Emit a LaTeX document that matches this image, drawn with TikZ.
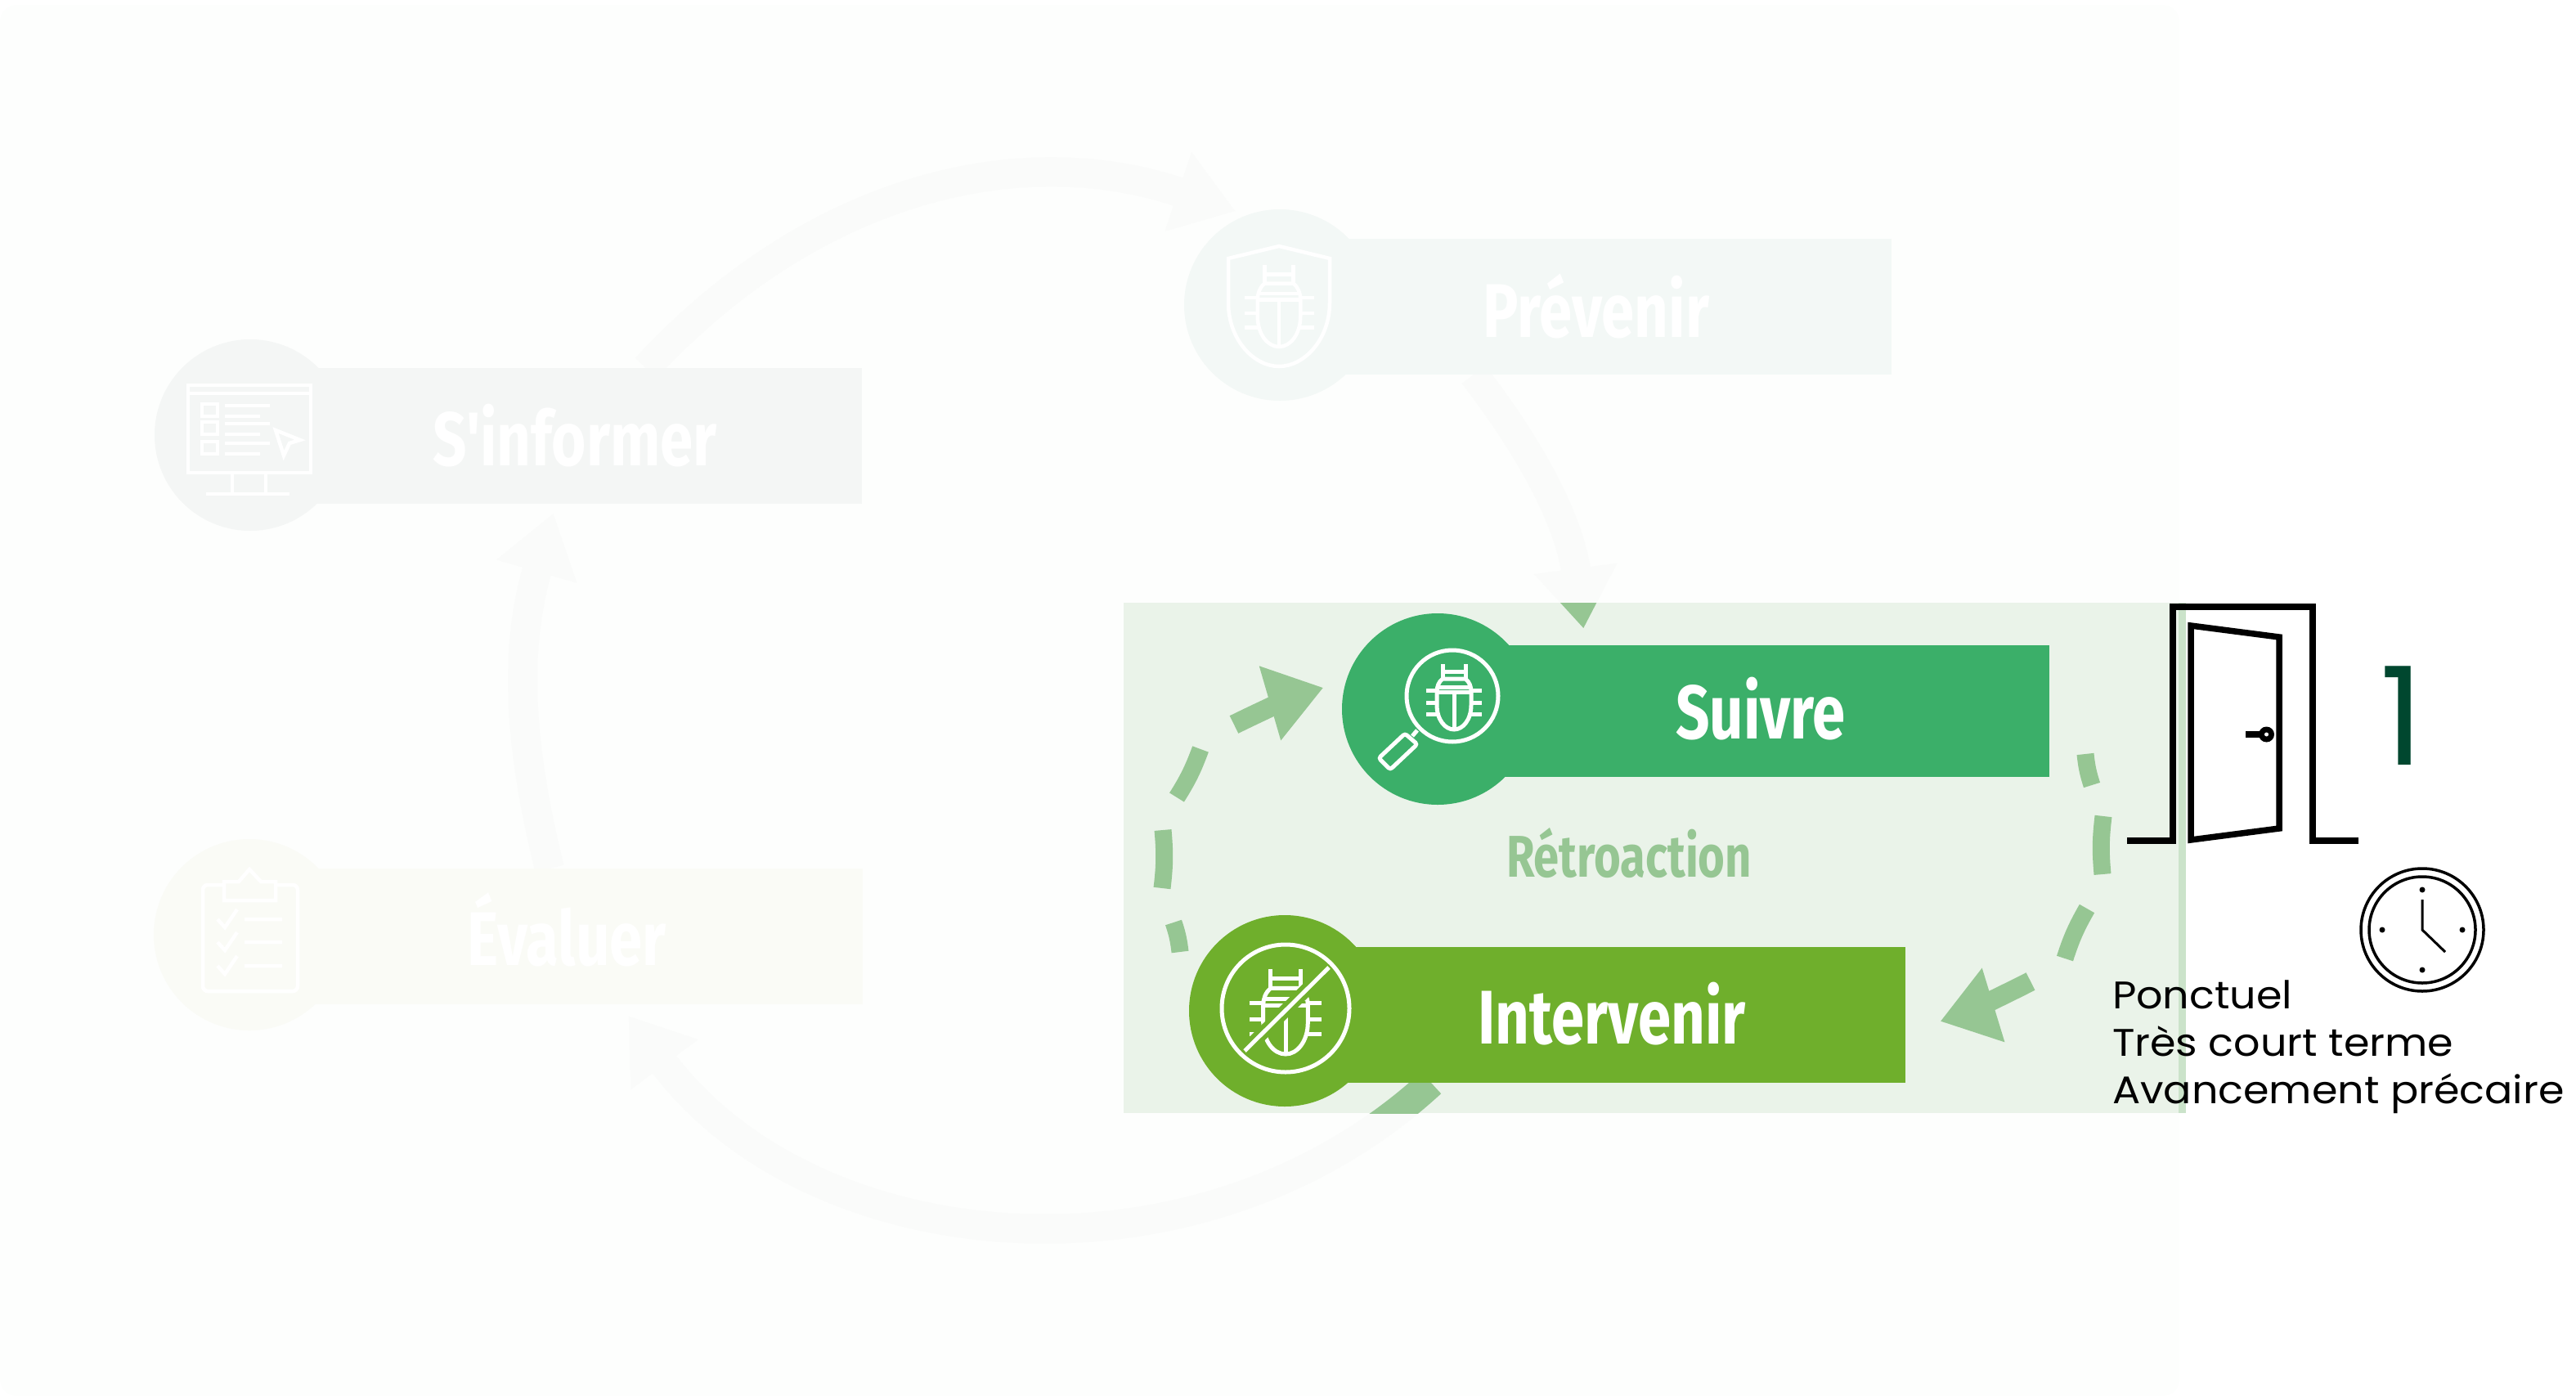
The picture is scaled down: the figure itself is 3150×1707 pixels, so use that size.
\documentclass[tikz,border=0pt]{standalone}
\usepackage{fontspec}
\usepackage{tikz}
\usetikzlibrary{arrows.meta}
\setmainfont{Poppins}
\newfontfamily\stepfont[FakeStretch=0.78]{Fira Sans}
\newfontfamily\capfont[FakeStretch=1.08]{Poppins}
\definecolor{panelc}{HTML}{FDFEFD}
\definecolor{hilitec}{HTML}{EAF3E9}
\definecolor{stripc}{HTML}{CBE3CA}
\definecolor{fadering}{HTML}{FAFBFA}
\definecolor{strongc}{HTML}{96C693}
\definecolor{suivrec}{HTML}{3BAF69}
\definecolor{intervc}{HTML}{6FAF2C}
\definecolor{sinfoc}{HTML}{F4F6F5}
\definecolor{prevc}{HTML}{F3F8F6}
\definecolor{evalc}{HTML}{FAFBF6}
\definecolor{onec}{HTML}{00472F}
\pgfdeclarelayer{panel}
\pgfdeclarelayer{ringfade}
\pgfdeclarelayer{hilite}
\pgfsetlayers{panel,ringfade,hilite,main}
\tikzset{pics/bugicon/.style={code={
\draw (-14,-40) -- (-14,-22) (14,-40) -- (14,-22) (-14,-31) -- (14,-31);
\draw (-14,-22) -- (14,-22) .. controls (19,-18) and (21,-12) .. (21,-6) -- (21,10) .. controls (21,28) and (11,40) .. (0,40) .. controls (-11,40) and (-21,28) .. (-21,10) -- (-21,-6) .. controls (-21,-12) and (-19,-18) .. (-14,-22);
\draw (-21,-6) -- (21,-6) (0,-6) -- (0,40) (-21,-12) -- (21,-12);
\foreach \ly in {-8,7,21} {\draw (-34,\ly) -- (-21,\ly) (21,\ly) -- (34,\ly);}
}}}
\begin{document}
\begin{tikzpicture}[x=1pt,y=-1pt]
\tikzstyle{every node}=[inner sep=0pt,outer sep=0pt];
\tikzstyle{stepcirc}=[shape=circle,minimum size=234pt];
\tikzstyle{stepbar}=[shape=rectangle,minimum height=166pt];
\tikzstyle{steptext}=[anchor=base,white,font=\stepfont\bfseries\fontsize{93}{93}\selectfont];
\tikzstyle{bigring}=[line width=36pt,-{Triangle[length=74pt,width=97pt]}];
\tikzstyle{smallring}=[line width=21pt,strongc];
\tikzstyle{smallarrow}=[line width=24pt,strongc,-{Triangle[length=68pt,width=90pt]}];
\tikzstyle{iconline}=[white,line width=5pt];
\tikzstyle{doorline}=[line width=7.5pt,black,miter limit=10];
\tikzstyle{clockline}=[draw=black,line width=3.5pt,shape=circle];
\useasboundingbox (0,0) rectangle (3150,1707);

\node[stepcirc,fill=sinfoc] (sinfocirc) at (306,532) {};
\node[stepbar,fill=sinfoc,minimum width=748pt] (sinfobar) at (680,533) {};
\node[steptext,text=white] (sinfotxt) at (703,569) {S'informer};
\node[stepcirc,fill=prevc] (prevcirc) at (1565,373) {};
\node[stepbar,fill=prevc,minimum width=748pt] (prevbar) at (1939,375) {};
\node[steptext] (prevtxt) at (1952,412) {Prévenir};
\node[stepcirc,fill=suivrec] (suivrecirc) at (1758,867) {};
\node[stepbar,fill=suivrec,minimum width=748pt,minimum height=161pt] (suivrebar) at (2132,869) {};
\node[steptext] (suivretxt) at (2153,903) {Suivre};
\node[stepcirc,fill=intervc] (intervcirc) at (1571,1236) {};
\node[stepbar,fill=intervc,minimum width=759pt] (intervbar) at (1950,1241) {};
\node[steptext] (intervtxt) at (1971,1276) {Intervenir};
\node[stepcirc,fill=evalc] (evalcirc) at (305,1143) {};
\node[stepbar,fill=evalc,minimum width=749pt] (evalbar) at (680,1145) {};
\node[steptext] (evaltxt) at (693,1180) {Évaluer};
\node[steptext,text=strongc,font=\stepfont\bfseries\fontsize{72}{72}\selectfont] (retrotxt) at (1992,1072) {Rétroaction};

\begin{pgfonlayer}{panel}
\fill[panelc,rounded corners=20pt] (0,6) rectangle (2665,1707);
\end{pgfonlayer}

\def\sinfoarc{([xshift=110pt]sinfobar.north) to[bend left=33] (prevcirc.110)}
\def\prevarc{([xshift=-137pt]prevbar.south) to[bend left=15] ([xshift=-193pt]suivrebar.north)}
\def\intervarc{([xshift=-200pt]intervbar.south) to[bend left=48] ([xshift=80pt,yshift=-3pt]evalbar.south)}
\def\evalarc{([xshift=-8pt]evalbar.north) to[bend left=15] (sinfobar.south)}

\begin{pgfonlayer}{ringfade}
\draw[bigring,fadering,shorten >=15pt] \sinfoarc;
\draw[bigring,fadering,shorten >=20pt] \prevarc;
\draw[bigring,fadering,shorten >=14pt] \intervarc;
\draw[bigring,fadering,shorten >=12pt] \evalarc;
\end{pgfonlayer}

\begin{pgfonlayer}{hilite}
\fill[hilitec] (1374,737) rectangle (2664,1361);
\fill[stripc] (2664,737) rectangle (2673,1361);
\begin{scope}
\clip (1374,737) rectangle (2664,1361);
\draw[bigring,strongc,shorten >=20pt] \prevarc;
\draw[bigring,strongc,shorten >=14pt] \intervarc;
\end{scope}
\end{pgfonlayer}

\coordinate (fba) at (1443,1164);
\coordinate (fbb) at (1435,1128);
\coordinate (fbc) at (1421,1086);
\coordinate (fbd) at (1422,1015);
\coordinate (fbe) at (1439,975);
\coordinate (fbf) at (1468,916);
\coordinate (fbg) at (1509,886);
\coordinate (fbh) at (2550,922);
\coordinate (fbi) at (2558,960);
\coordinate (fbj) at (2572,998);
\coordinate (fbk) at (2571,1069);
\coordinate (fbl) at (2552,1111);
\coordinate (fbm) at (2525,1172);
\coordinate (fbn) at (2483,1200);
\foreach \a/\b in {fba/fbb,fbc/fbd,fbe/fbf,fbh/fbi,fbj/fbk,fbl/fbm}
\draw[smallring] (\a) to[bend right=6] (\b);
\draw[smallarrow,shorten >=29pt] (fbg) to[bend left=5] (suivrecirc.163);
\draw[smallarrow,shorten >=45pt] (fbn) to[bend left=5] ([yshift=-21pt]intervbar.east);

\draw[iconline] (1776,851) circle (56pt);
\draw[iconline] (1733,893) -- (1727,900);
\draw[iconline,rounded corners=3pt] (1718,897) -- (1733,910) -- (1700,941) -- (1686,927) -- cycle;
\pic[iconline] at (1778,852) {bugicon};

\pic[iconline] at (1572,1237) [scale=1.3] {bugicon};
\draw[intervc,line width=16pt] (1520,1287) -- (1627,1181);
\draw[iconline] (1572,1233) circle (78pt);
\draw[iconline] (1522,1285) -- (1625,1183);

\tikzstyle{fadeline}=[white,line width=4.5pt];
\draw[fadeline] (1502,316) -- (1564,301) -- (1626,316) -- (1626,370) .. controls (1626,415) and (1595,448) .. (1564,448) .. controls (1533,448) and (1502,415) .. (1502,370) -- cycle;
\pic[fadeline] at (1564,374) [scale=1.25] {bugicon};

\draw[fadeline] (230,471) rectangle (380,578) (230,481) -- (380,481);
\draw[fadeline] (284,578) -- (284,604) (325,578) -- (325,604) (252,604) -- (354,604);
\foreach \ty in {494,516,540} {\draw[fadeline] (247,\ty) rectangle (266,\ty+15);
\draw[fadeline] (275,\ty+2) -- (330,\ty+2) (275,\ty+15) -- (318,\ty+15);}
\draw[fadeline] (337,526) -- (367,538) -- (354,542) -- (347,557) -- cycle;

\draw[fadeline,rounded corners=6pt] (274,1082) -- (248,1082) -- (248,1212) -- (364,1212) -- (364,1082) -- (337,1082);
\draw[fadeline] (274,1101) -- (274,1078) -- (292,1078) -- (305,1063) -- (319,1078) -- (337,1078) -- (337,1101) -- cycle;
\foreach \ty in {1124,1152,1181} {\draw[fadeline] (266,\ty) -- (275,\ty+10) -- (290,\ty-12) (299,\ty) -- (345,\ty);}

\draw[doorline] (2601,1028) -- (2657,1028) -- (2657,742) -- (2828,742) -- (2828,1028) -- (2884,1028);
\draw[doorline] (2679,765) -- (2787,779) -- (2787,1013) -- (2679,1027) -- cycle;
\draw[doorline] (2746,898) -- (2766,898);
\fill[black] (2771.5,898) circle (9.5pt);
\fill[white] (2771.5,898) circle (2.5pt);

\node[anchor=base,text=onec,font=\fontsize{167}{167}\selectfont] (doornum) at (2937,935) {1};

\node[clockline,minimum size=150pt] (clockout) at (2962,1137) {};
\node[clockline,minimum size=130pt] (clockin) at (2962,1137) {};
\foreach \a in {0,90,180,270} \fill[black] (clockin.center) ++(\a:49pt) circle (3.5pt);
\draw[black,line width=3pt] (2962,1100) -- (clockin.center) -- (2990,1164);

\node[anchor=north west,align=left,text=black,font=\capfont\fontsize{47}{58}\selectfont] (captiontxt) at (2583,1199) {Ponctuel\\Très court terme\\Avancement précaire};
\end{tikzpicture}
\end{document}
